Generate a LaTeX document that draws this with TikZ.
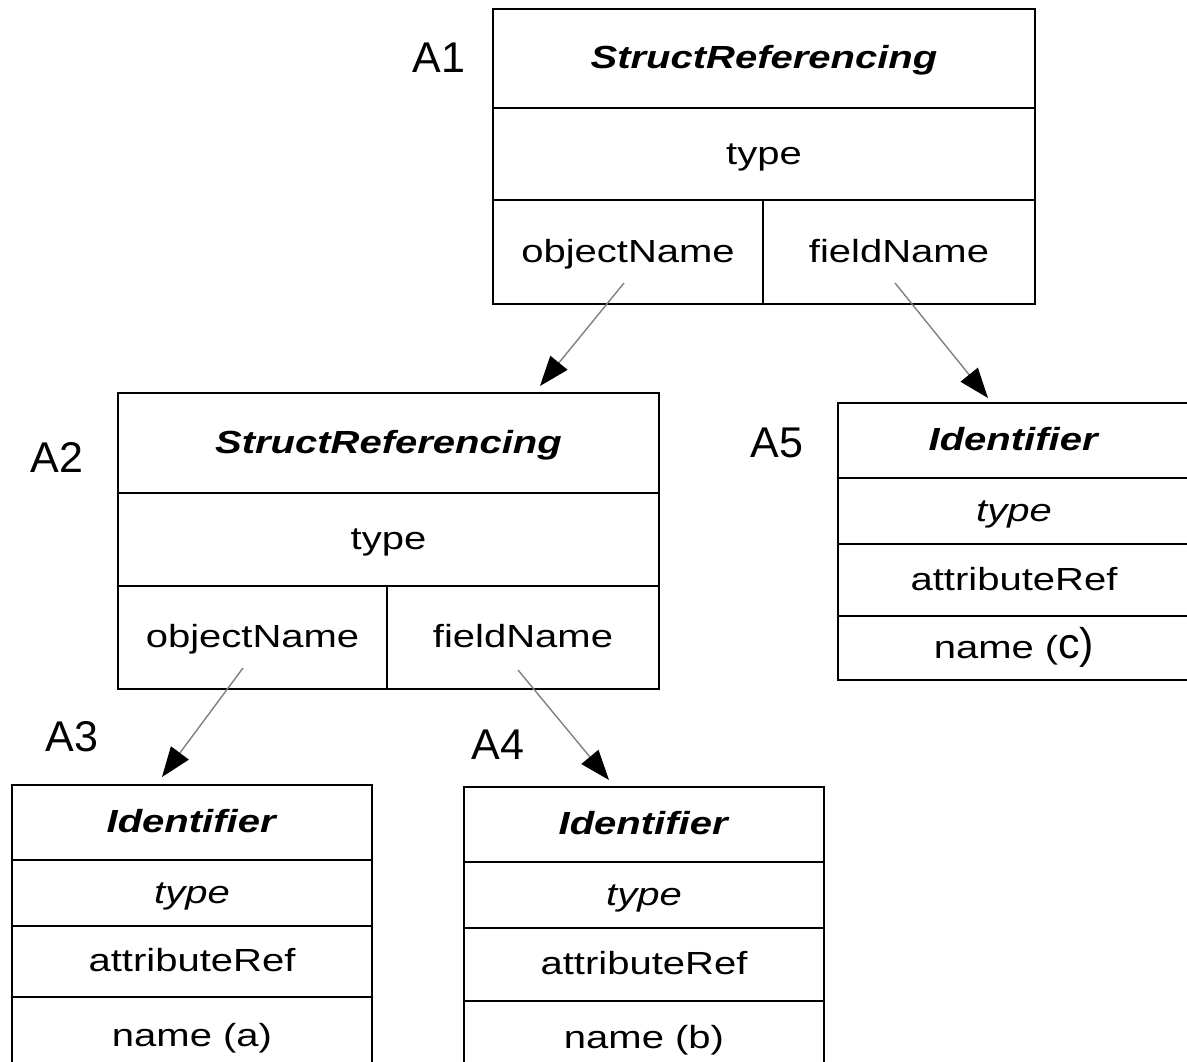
\documentclass[tikz,border=0pt]{standalone}
\usepackage{fontspec}
\setmainfont{Liberation Sans}
\newfontfamily\boxfont{Liberation Sans}[FakeStretch=1.25]
\usetikzlibrary{arrows.meta}

\begin{document}
\begin{tikzpicture}[
  x=0.5pt, y=-0.5pt,
  boxline/.style={line width=1.3pt},
  celltext/.style={font={\boxfont\fontsize{16}{19}\selectfont}, inner sep=0pt,
                   text height=13pt, text depth=3pt},
  tag/.style={font={\fontsize{21.5}{26}\selectfont}, inner sep=0pt},
  ref/.style={draw=gray, line width=0.7pt,
              -{Triangle[length=15pt, width=11pt, color=black]}}
]
\clip (0,0) rectangle (1187,1061);
\fill[white] (0,0) rectangle (1187,1061);

\def\cell#1#2#3#4#5#6{%
  \draw[boxline] (#2,#3) rectangle (#4,#5);
  \node[celltext] (#1) at ({(#2+#4)/2}, {(#3+#5)/2}) {#6};
}

% A1
\cell{a1head}{493}{9}{1035}{108}{\textbf{\textit{StructReferencing}}}
\cell{a1type}{493}{108}{1035}{200}{type}
\cell{a1obj}{493}{200}{763}{304}{objectName}
\cell{a1field}{763}{200}{1035}{304}{fieldName}
% A2
\cell{a2head}{118}{393}{659}{493}{\textbf{\textit{StructReferencing}}}
\cell{a2type}{118}{493}{659}{586}{type}
\cell{a2obj}{118}{586}{387}{689}{objectName}
\cell{a2field}{387}{586}{659}{689}{fieldName}
% A5
\cell{a5head}{838}{403}{1190}{478}{\textbf{\textit{Identifier}}}
\cell{a5type}{838}{478}{1190}{544}{\textit{type}}
\cell{a5attr}{838}{544}{1190}{616}{attributeRef}
\cell{a5name}{838}{616}{1190}{680}{name ({\normalfont\fontsize{21.5}{26}\selectfont c)}}
% A3
\cell{a3head}{12}{785}{372}{860}{\textbf{\textit{Identifier}}}
\cell{a3type}{12}{860}{372}{926}{\textit{type}}
\cell{a3attr}{12}{926}{372}{997}{attributeRef}
\cell{a3name}{12}{997}{372}{1075}{name (a)}
% A4
\cell{a4head}{464}{787}{824}{862}{\textbf{\textit{Identifier}}}
\cell{a4type}{464}{862}{824}{928}{\textit{type}}
\cell{a4attr}{464}{928}{824}{1001}{attributeRef}
\cell{a4name}{464}{1001}{824}{1075}{name (b)}

% tags
\node[tag] (a1tag) at (439,58) {A1};
\node[tag] (a2tag) at (57,457) {A2};
\node[tag] (a3tag) at (72,737) {A3};
\node[tag] (a4tag) at (498,745) {A4};
\node[tag] (a5tag) at (777,443) {A5};

% references
\coordinate (a1o) at (624,283);
\coordinate (a1f) at (895,283);
\coordinate (a2o) at (243,668);
\coordinate (a2f) at (518,670);
\coordinate (a2in) at (540,386);
\coordinate (a5in) at (988,398);
\coordinate (a3in) at (162,777);
\coordinate (a4in) at (609,780);
\draw[ref] (a1o) -- (a2in);
\draw[ref] (a1f) -- (a5in);
\draw[ref] (a2o) -- (a3in);
\draw[ref] (a2f) -- (a4in);
\end{tikzpicture}
\end{document}
